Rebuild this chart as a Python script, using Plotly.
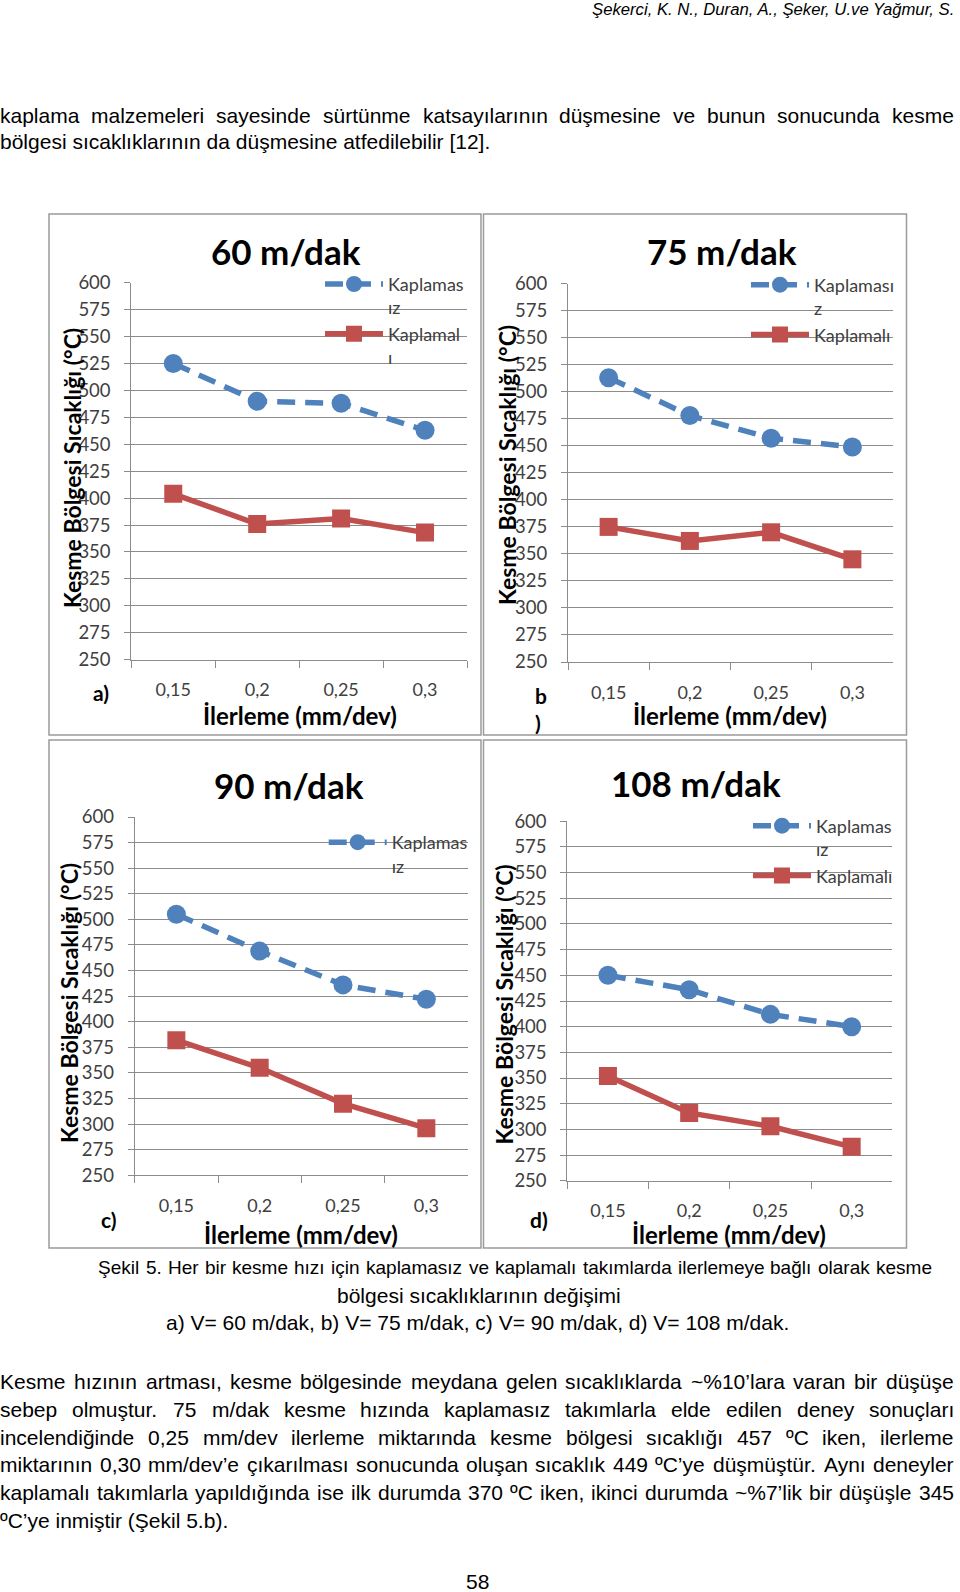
import plotly.graph_objects as go

# ---------------- data ----------------
FEED = ["0,15", "0,2", "0,25", "0,3"]
SPEEDS = ["60 m/dak", "75 m/dak", "90 m/dak", "108 m/dak"]
PANEL_LABELS = ["a)", "b<br>)", "c)", "d)"]
UNCOATED_60 = [525, 490, 488, 463]
COATED_60 = [404, 376, 381, 368]
UNCOATED_75 = [513, 478, 457, 449]
COATED_75 = [375, 362, 370, 345]
UNCOATED_90 = [505, 469, 436, 422]
COATED_90 = [382, 355, 320, 296]
UNCOATED_108 = [450, 436, 412, 400]
COATED_108 = [352, 316, 303, 283]
UNCOATED_NAMES = ["Kaplamas<br>ız", "Kaplaması<br>z", "Kaplamas<br>ız", "Kaplamas<br>ız"]
COATED_NAMES = ["Kaplamal<br>ı", "Kaplamalı", "Kaplamalı", "Kaplamalı"]
COATED_IN_LEGEND = [True, True, False, True]
Y_MIN, Y_MAX, Y_STEP = 250, 600, 25
Y_TITLE = "Kesme Bölgesi Sıcaklığı (°C)"
X_TITLE = "İlerleme (mm/dev)"

HEADER = "Şekerci, K. N., Duran, A., Şeker, U.ve Yağmur, S."
PARA1 = [
    "kaplama malzemeleri sayesinde sürtünme katsayılarının düşmesine ve bunun sonucunda kesme",
    "bölgesi sıcaklıklarının da düşmesine atfedilebilir [12].",
]
CAPTION = [
    "Şekil 5. Her bir kesme hızı için kaplamasız ve kaplamalı takımlarda ilerlemeye bağlı olarak kesme",
    "bölgesi sıcaklıklarının değişimi",
    "a) V= 60 m/dak, b) V= 75 m/dak, c) V= 90 m/dak, d) V= 108 m/dak.",
]
PARA2 = [
    "Kesme hızının artması, kesme bölgesinde meydana gelen sıcaklıklarda ~%10’lara varan bir düşüşe",
    "sebep olmuştur. 75 m/dak kesme hızında kaplamasız takımlarla elde edilen deney sonuçları",
    "incelendiğinde 0,25 mm/dev ilerleme miktarında kesme bölgesi sıcaklığı 457 ºC iken, ilerleme",
    "miktarının 0,30 mm/dev’e çıkarılması sonucunda oluşan sıcaklık 449 ºC’ye düşmüştür. Aynı deneyler",
    "kaplamalı takımlarla yapıldığında ise ilk durumda 370 ºC iken, ikinci durumda ~%7’lik bir düşüşle 345",
    "ºC’ye inmiştir (Şekil 5.b).",
]
PAGE_NO = "58"

UNCOATED = [UNCOATED_60, UNCOATED_75, UNCOATED_90, UNCOATED_108]
COATED = [COATED_60, COATED_75, COATED_90, COATED_108]

# ---------------- styling / layout ----------------
W, H = 960, 1592
BLUE = "#4F81BD"
RED = "#C0504D"
GRID = "#8c8c8c"
FRAME = "#9a9a9a"
TICKC = "#404040"
CF = "Lato"
PF = "Liberation Sans, Arial"


def px(x):
    return x / W


def py(y):
    return 1 - y / H


PANELS = [
    dict(dx=(131.3, 467.0), dy=(282.7, 659.7), frame=(49, 214, 481, 735), title=(285.5, 251),
         ytitle=(72, 468), xtitle=(299.7, 715), lab=(100.5, 692), leg=(320, 265.8)),
    dict(dx=(568.0, 893.0), dy=(283.7, 662.0), frame=(483.5, 214, 906.5, 735), title=(722, 251.3),
         ytitle=(507, 465), xtitle=(730, 715.3), lab=(541, 709), leg=(746, 266.5)),
    dict(dx=(134.7, 468.0), dy=(817.0, 1175.3), frame=(49, 740, 481, 1248), title=(288.8, 784.7),
         ytitle=(69, 1003), xtitle=(300.5, 1234.7), lab=(109, 1219.7), leg=(323.7, 824)),
    dict(dx=(567.3, 892.3), dy=(821.3, 1180.7), frame=(483.5, 740, 906.5, 1248), title=(696, 783),
         ytitle=(503, 1004.5), xtitle=(728.8, 1234.7), lab=(539, 1219.7), leg=(748, 807.5)),
]

fig = go.Figure()
layout = dict(
    template="none",
    width=W, height=H, margin=dict(l=0, r=0, t=0, b=0, pad=0, autoexpand=False),
    paper_bgcolor="white", plot_bgcolor="rgba(0,0,0,0)",
    showlegend=True, shapes=[], annotations=[],
)

for i, p in enumerate(PANELS):
    k = "" if i == 0 else str(i + 1)
    xa, ya = "x" + k, "y" + k
    lg = "legend" + k
    fig.add_trace(go.Scatter(
        x=FEED, y=UNCOATED[i], mode="lines+markers", name=UNCOATED_NAMES[i],
        line=dict(color=BLUE, width=5.5, dash="18px,10px"),
        marker=dict(symbol="circle", size=19, color=BLUE),
        xaxis=xa, yaxis=ya, legend=lg, showlegend=True))
    fig.add_trace(go.Scatter(
        x=FEED, y=COATED[i], mode="lines+markers", name=COATED_NAMES[i],
        line=dict(color=RED, width=5.5),
        marker=dict(symbol="square", size=18, color=RED),
        xaxis=xa, yaxis=ya, legend=lg, showlegend=COATED_IN_LEGEND[i]))

    layout["xaxis" + k] = dict(
        domain=[px(p["dx"][0]), px(p["dx"][1])], anchor=ya, type="category",
        range=[-0.5, len(FEED) - 0.5], tickson="boundaries", ticks="outside", ticklen=7,
        tickcolor=GRID, showline=True, linecolor=GRID, linewidth=1, showgrid=False,
        zeroline=False, tickfont=dict(family=CF, size=18, color=TICKC), ticklabelstandoff=14,
        automargin=False, fixedrange=True)
    layout["yaxis" + k] = dict(
        domain=[py(p["dy"][1]), py(p["dy"][0])], anchor=xa, range=[Y_MIN, Y_MAX],
        tick0=Y_MIN, dtick=Y_STEP, showgrid=True, gridcolor=GRID, gridwidth=1,
        ticks="outside", ticklen=6, tickcolor=GRID, showline=True, linecolor=GRID,
        zeroline=False, tickfont=dict(family=CF, size=18.5, color=TICKC), ticklabelstandoff=10,
        automargin=False, fixedrange=True)
    layout[lg] = dict(
        x=px(p["leg"][0]), y=py(p["leg"][1]), xanchor="left", yanchor="top",
        bgcolor="rgba(0,0,0,0)", borderwidth=0, itemwidth=58, valign="top",
        font=dict(family=CF, size=18, color=TICKC), traceorder="normal")

    f = p["frame"]
    layout["shapes"].append(dict(
        type="rect", xref="paper", yref="paper", x0=px(f[0]), x1=px(f[2]), y0=py(f[3]), y1=py(f[1]),
        line=dict(color=FRAME, width=1.5), fillcolor="rgba(0,0,0,0)", layer="below"))

    common = dict(xref="paper", yref="paper", showarrow=False, borderpad=0, borderwidth=0)
    layout["annotations"].append(dict(
        text="<b>" + SPEEDS[i] + "</b>", x=px(p["title"][0]), y=py(p["title"][1]),
        xanchor="center", yanchor="middle", font=dict(family=CF, size=35, color="black"), **common))
    layout["annotations"].append(dict(
        text="<b>" + Y_TITLE + "</b>", x=px(p["ytitle"][0]), y=py(p["ytitle"][1]), textangle=-90,
        xanchor="center", yanchor="middle", font=dict(family=CF, size=23, color="black"), **common))
    layout["annotations"].append(dict(
        text="<b>" + X_TITLE + "</b>", x=px(p["xtitle"][0]), y=py(p["xtitle"][1]),
        xanchor="center", yanchor="middle", font=dict(family=CF, size=24, color="black"), **common))
    layout["annotations"].append(dict(
        text="<b>" + PANEL_LABELS[i] + "</b>", x=px(p["lab"][0]), y=py(p["lab"][1]),
        xanchor="center", yanchor="middle", align="left",
        font=dict(family=CF, size=21, color="black"), **common))

# ---------------- page text ----------------
AW = {" ": 278, "!": 278, "%": 889, "'": 191, "’": 222, "(": 333, ")": 333, ",": 278, "-": 333,
      ".": 278, "/": 278, ":": 278, "=": 584, "[": 278, "]": 278, "~": 584, "º": 365, "°": 400,
      "A": 667, "B": 667, "C": 722, "D": 722, "E": 667, "F": 611, "G": 778, "H": 722, "I": 278,
      "J": 500, "K": 667, "L": 556, "M": 833, "N": 722, "O": 778, "P": 667, "Q": 778, "R": 722,
      "S": 667, "T": 611, "U": 722, "V": 667, "W": 944, "X": 667, "Y": 667, "Z": 611,
      "a": 556, "b": 556, "c": 500, "d": 556, "e": 556, "f": 278, "g": 556, "h": 556, "i": 222,
      "j": 222, "k": 500, "l": 222, "m": 833, "n": 556, "o": 556, "p": 556, "q": 556, "r": 333,
      "s": 500, "t": 278, "u": 556, "v": 500, "w": 722, "x": 500, "y": 500, "z": 500,
      "ı": 278, "ş": 500, "Ş": 667, "ç": 500, "Ç": 722, "ğ": 556, "Ğ": 778, "ö": 556, "Ö": 778,
      "ü": 556, "Ü": 722, "İ": 278}
FS = 21


def tw(s, size=FS):
    return sum(AW.get(ch, 556) for ch in s) * size / 1000.0


def text_ann(text, x, y, anchor="left", size=FS):
    layout["annotations"].append(dict(
        text=text, x=px(x), y=py(y), xref="paper", yref="paper", showarrow=False,
        xanchor=anchor, yanchor="middle", borderpad=0, borderwidth=0,
        font=dict(family=PF, size=size, color="black")))


def justified(line, y, left, right, size=FS):
    words = line.split(" ")
    widths = [tw(w, size) for w in words]
    gap = (right - left - sum(widths)) / (len(words) - 1)
    x = left
    for w, wd in zip(words, widths):
        text_ann(w, x, y, size=size)
        x += wd + gap


text_ann("<i>" + HEADER + "</i>", 954, 9, anchor="right", size=16.7)

P1_Y = [115, 142]
justified(PARA1[0], P1_Y[0], 0, 954)
text_ann(PARA1[1], 0, P1_Y[1])

CAP_Y = [1267, 1295, 1322]
justified(CAPTION[0], CAP_Y[0], 98, 932, size=19)
text_ann(CAPTION[1], 478.5, CAP_Y[1], anchor="center")
text_ann(CAPTION[2], 477, CAP_Y[2], anchor="center")

P2_Y = [1381, 1409, 1437, 1464, 1492, 1520]
for j, line in enumerate(PARA2):
    if j < len(PARA2) - 1:
        justified(line, P2_Y[j], 0, 954)
    else:
        text_ann(line, 0, P2_Y[j])

text_ann(PAGE_NO, 477, 1581.5, anchor="center")

fig.update_layout(**layout)
fig.write_html(
    "out.html",
    config={"displayModeBar": False},
    post_script="document.body.style.margin='0';document.body.style.overflow='hidden';",
)
